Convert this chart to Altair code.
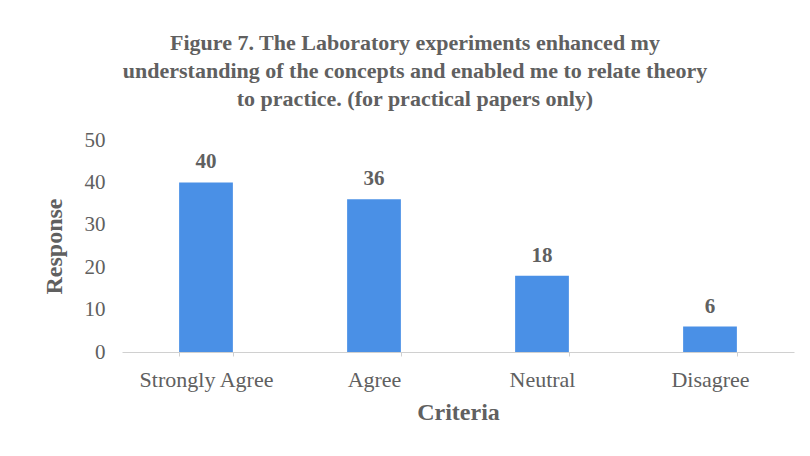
import altair as alt
import pandas as pd

categories = ["Strongly Agree", "Agree", "Neutral", "Disagree"]
responses = [40, 36, 18, 6]

df = pd.DataFrame({"Criteria": categories, "Response": responses})

TXT = "#606060"
FONT = "Liberation Serif"

base = alt.Chart(df).encode(
    x=alt.X("Criteria:N", sort=categories,
            scale=alt.Scale(paddingInner=0.68, paddingOuter=0.34),
            axis=alt.Axis(title="Criteria", labelAngle=0, labelFont=FONT,
                          labelFontSize=22, labelColor=TXT, labelPadding=13,
                          titleFont=FONT, titleFontSize=24, titleColor=TXT,
                          titleFontWeight="bold", titlePadding=10,
                          domainColor="#d0d0d0", tickColor="#d0d0d0",
                          tickSize=4, tickBand="extent", ticks=True)),
    y=alt.Y("Response:Q", scale=alt.Scale(domain=[0, 50]),
            axis=alt.Axis(title="Response", values=[0, 10, 20, 30, 40, 50],
                          grid=False, domain=False, ticks=False,
                          labelFont=FONT, labelFontSize=21, labelColor=TXT,
                          labelPadding=17, titleFont=FONT, titleFontSize=24,
                          titleColor=TXT, titleFontWeight="bold",
                          titlePadding=18)),
)

bars = base.mark_bar(color="#4a90e6")
labels = base.mark_text(dy=-20, font=FONT, fontSize=21, fontWeight="bold",
                        color=TXT).encode(text="Response:Q")

chart = (bars + labels).properties(
    width=672, height=212,
    background="white",
    title=alt.TitleParams(
        ["Figure 7. The Laboratory experiments enhanced my",
         "understanding of the concepts and enabled me to relate theory",
         "to practice. (for practical papers only)"],
        font=FONT, fontSize=22, fontWeight="bold", color=TXT,
        anchor="middle", lineHeight=28, offset=18, dx=-43),
    autosize=alt.AutoSizeParams(type="none"),
    padding={"left": 114, "top": 132, "right": 8, "bottom": 96},
).configure_view(strokeWidth=0, stroke=None)

chart.save("out.html", embed_options={"renderer": "svg", "actions": False})
